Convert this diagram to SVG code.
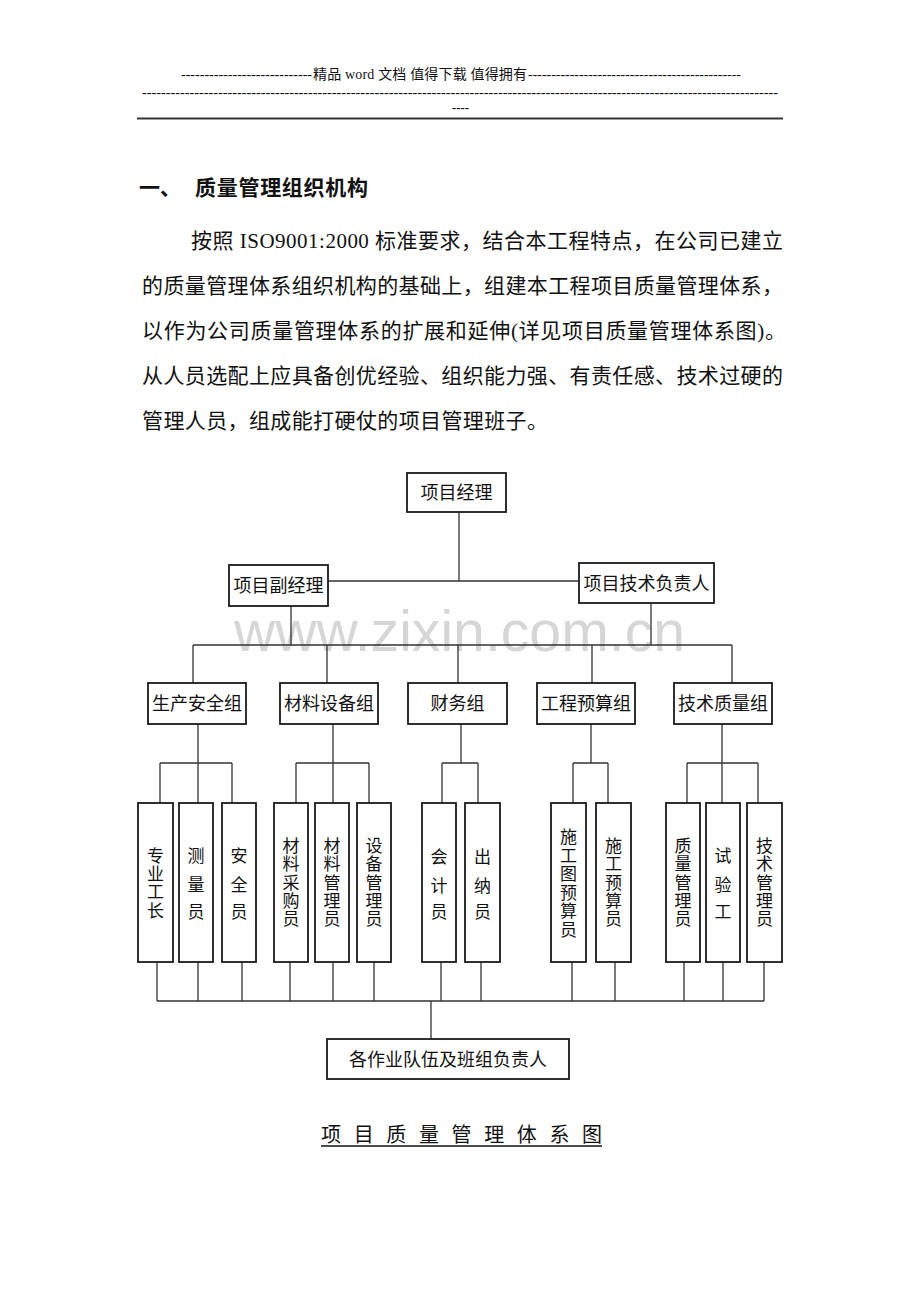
<svg xmlns="http://www.w3.org/2000/svg" width="920" height="1302" viewBox="0 0 920 1302">
<style>
.t{font-family:"Liberation Serif","Noto Sans CJK SC",serif;fill:#111}
.hd{font-size:14px}
.h1{font-size:21px;font-weight:bold}
.p{font-size:21px}
.bx{fill:#fff;stroke:#1a1a1a;stroke-width:1.8}
.n{font-size:18px;text-anchor:middle}
.v{font-size:17px;text-anchor:middle}
.ln{stroke:#333;stroke-width:1.3;fill:none}
.wm{font-family:"Liberation Sans",Arial,sans-serif;font-size:57px;fill:#d6d6d6}
</style>
<rect width="920" height="1302" fill="#fff"/>
<g id="header">
<text class="t hd" x="181" y="79" textLength="131" lengthAdjust="spacingAndGlyphs">----------------------------</text>
<text class="t hd" x="313" y="79" textLength="214" lengthAdjust="spacing">精品 word 文档 值得下载 值得拥有</text>
<text class="t hd" x="528" y="79" textLength="213" lengthAdjust="spacingAndGlyphs">----------------------------------------------</text>
<text class="t hd" x="142" y="97" textLength="636" lengthAdjust="spacingAndGlyphs">--------------------------------------------------------------------------------------------------------------------------------------</text>
<text class="t hd" x="452" y="112" textLength="17" lengthAdjust="spacingAndGlyphs">----</text>
<line x1="137" y1="118.5" x2="783" y2="118.5" stroke="#333" stroke-width="2"/>
</g>
<g id="intro">
<text class="t h1" x="139" y="195">一、</text>
<text class="t h1" x="195" y="195" textLength="173" lengthAdjust="spacing">质量管理组织机构</text>
<text class="t p" x="191" y="248" textLength="592" lengthAdjust="spacing">按照 ISO9001:2000 标准要求，结合本工程特点，在公司已建立</text>
<text class="t p" x="142" y="293" textLength="641" lengthAdjust="spacing">的质量管理体系组织机构的基础上，组建本工程项目质量管理体系，</text>
<text class="t p" x="142" y="338" textLength="644" lengthAdjust="spacing">以作为公司质量管理体系的扩展和延伸(详见项目质量管理体系图)。</text>
<text class="t p" x="142" y="383" textLength="641" lengthAdjust="spacing">从人员选配上应具备创优经验、组织能力强、有责任感、技术过硬的</text>
<text class="t p" x="142" y="428" textLength="406" lengthAdjust="spacing">管理人员，组成能打硬仗的项目管理班子。</text>
</g>
<text class="wm" x="234" y="651" textLength="451" lengthAdjust="spacingAndGlyphs">www.zixin.com.cn</text>
<g id="connectors">
<path class="ln" d="M459 512V581M328 581H579M291 606V645M651 603V645M193 645H732M193 645V683M327 645V683M458 645V683M592 645V683M732 645V683"/>
<path class="ln" d="M198 724V763M160 763H232M160 763V803M198 763V803M232 763V803"/>
<path class="ln" d="M333 724V763M296 763H369M296 763V803M333 763V803M369 763V803"/>
<path class="ln" d="M461 724V763M442 763H478M442 763V803M478 763V803"/>
<path class="ln" d="M591 724V763M573 763H608M573 763V803M608 763V803"/>
<path class="ln" d="M722 724V763M687 763H758M687 763V803M722 763V803M758 763V803"/>
<path class="ln" d="M157 962V1001M198 962V1001M242 962V1001M290 962V1001M333 962V1001M374 962V1001M441 962V1001M481 962V1001M572 962V1001M615 962V1001M684 962V1001M723 962V1001M764 962V1001M157 1001H764M431 1001V1039"/>
</g>
<g id="n-pm"><rect class="bx" x="407" y="473" width="99" height="39"/><text class="t n" x="456.5" y="499">项目经理</text></g>
<g id="n-dpm"><rect class="bx" x="229" y="565" width="99" height="41"/><text class="t n" x="278.5" y="592">项目副经理</text></g>
<g id="n-tech"><rect class="bx" x="579" y="563" width="135" height="40"/><text class="t n" x="646.5" y="590">项目技术负责人</text></g>
<g id="g-safety"><rect class="bx" x="148" y="683" width="98" height="41"/><text class="t n" x="197" y="710">生产安全组</text></g>
<g id="g-material"><rect class="bx" x="280" y="683" width="98" height="41"/><text class="t n" x="329" y="710">材料设备组</text></g>
<g id="g-finance"><rect class="bx" x="408" y="683" width="99" height="41"/><text class="t n" x="457.5" y="710">财务组</text></g>
<g id="g-budget"><rect class="bx" x="537" y="683" width="98" height="41"/><text class="t n" x="586" y="710">工程预算组</text></g>
<g id="g-quality"><rect class="bx" x="674" y="683" width="98" height="41"/><text class="t n" x="723" y="710">技术质量组</text></g>
<g id="s1"><rect class="bx" x="138" y="803" width="35" height="159"/><text class="t v"><tspan x="155.5" y="861.5">专</tspan><tspan x="155.5" y="879.8">业</tspan><tspan x="155.5" y="898">工</tspan><tspan x="155.5" y="916.5">长</tspan></text></g>
<g id="s2"><rect class="bx" x="179" y="803" width="34" height="159"/><text class="t v"><tspan x="196" y="861.5">测</tspan><tspan x="196" y="890.5">量</tspan><tspan x="196" y="917.5">员</tspan></text></g>
<g id="s3"><rect class="bx" x="222" y="803" width="34" height="159"/><text class="t v"><tspan x="239" y="861.5">安</tspan><tspan x="239" y="890.5">全</tspan><tspan x="239" y="917.5">员</tspan></text></g>
<g id="s4"><rect class="bx" x="274" y="803" width="34" height="159"/><text class="t v"><tspan x="291" y="852">材</tspan><tspan x="291" y="870">料</tspan><tspan x="291" y="888.5">采</tspan><tspan x="291" y="906.5">购</tspan><tspan x="291" y="924.5">员</tspan></text></g>
<g id="s5"><rect class="bx" x="315" y="803" width="34" height="159"/><text class="t v"><tspan x="332" y="852">材</tspan><tspan x="332" y="870">料</tspan><tspan x="332" y="888.5">管</tspan><tspan x="332" y="906.5">理</tspan><tspan x="332" y="924.5">员</tspan></text></g>
<g id="s6"><rect class="bx" x="357" y="803" width="34" height="159"/><text class="t v"><tspan x="374" y="852">设</tspan><tspan x="374" y="870">备</tspan><tspan x="374" y="888.5">管</tspan><tspan x="374" y="906.5">理</tspan><tspan x="374" y="924.5">员</tspan></text></g>
<g id="s7"><rect class="bx" x="422" y="803" width="34" height="159"/><text class="t v"><tspan x="439" y="863">会</tspan><tspan x="439" y="891.5">计</tspan><tspan x="439" y="917.5">员</tspan></text></g>
<g id="s8"><rect class="bx" x="465" y="803" width="35" height="159"/><text class="t v"><tspan x="482.5" y="863">出</tspan><tspan x="482.5" y="891.5">纳</tspan><tspan x="482.5" y="917.5">员</tspan></text></g>
<g id="s9"><rect class="bx" x="551" y="803" width="35" height="159"/><text class="t v"><tspan x="568.5" y="843">施</tspan><tspan x="568.5" y="861.5">工</tspan><tspan x="568.5" y="880">图</tspan><tspan x="568.5" y="898.5">预</tspan><tspan x="568.5" y="917">算</tspan><tspan x="568.5" y="935.5">员</tspan></text></g>
<g id="s10"><rect class="bx" x="596" y="803" width="35" height="159"/><text class="t v"><tspan x="613.5" y="851.5">施</tspan><tspan x="613.5" y="870">工</tspan><tspan x="613.5" y="888.5">预</tspan><tspan x="613.5" y="907">算</tspan><tspan x="613.5" y="925">员</tspan></text></g>
<g id="s11"><rect class="bx" x="666" y="803" width="34" height="159"/><text class="t v"><tspan x="683" y="851.5">质</tspan><tspan x="683" y="870">量</tspan><tspan x="683" y="888.5">管</tspan><tspan x="683" y="907">理</tspan><tspan x="683" y="925">员</tspan></text></g>
<g id="s12"><rect class="bx" x="706" y="803" width="34" height="159"/><text class="t v"><tspan x="723" y="862">试</tspan><tspan x="723" y="890.5">验</tspan><tspan x="723" y="918">工</tspan></text></g>
<g id="s13"><rect class="bx" x="747" y="803" width="35" height="159"/><text class="t v"><tspan x="764.5" y="851.5">技</tspan><tspan x="764.5" y="870">术</tspan><tspan x="764.5" y="888.5">管</tspan><tspan x="764.5" y="907">理</tspan><tspan x="764.5" y="925">员</tspan></text></g>
<g id="n-teams"><rect class="bx" x="327" y="1039" width="242" height="40"/><text class="t n" x="448" y="1066">各作业队伍及班组负责人</text></g>
<g id="caption">
<text class="t" x="321" y="1142" font-size="20" textLength="281" lengthAdjust="spacing">项 目 质 量 管 理 体 系 图</text>
<line x1="321" y1="1146" x2="602" y2="1146" stroke="#111" stroke-width="1.5"/>
</g>
</svg>
